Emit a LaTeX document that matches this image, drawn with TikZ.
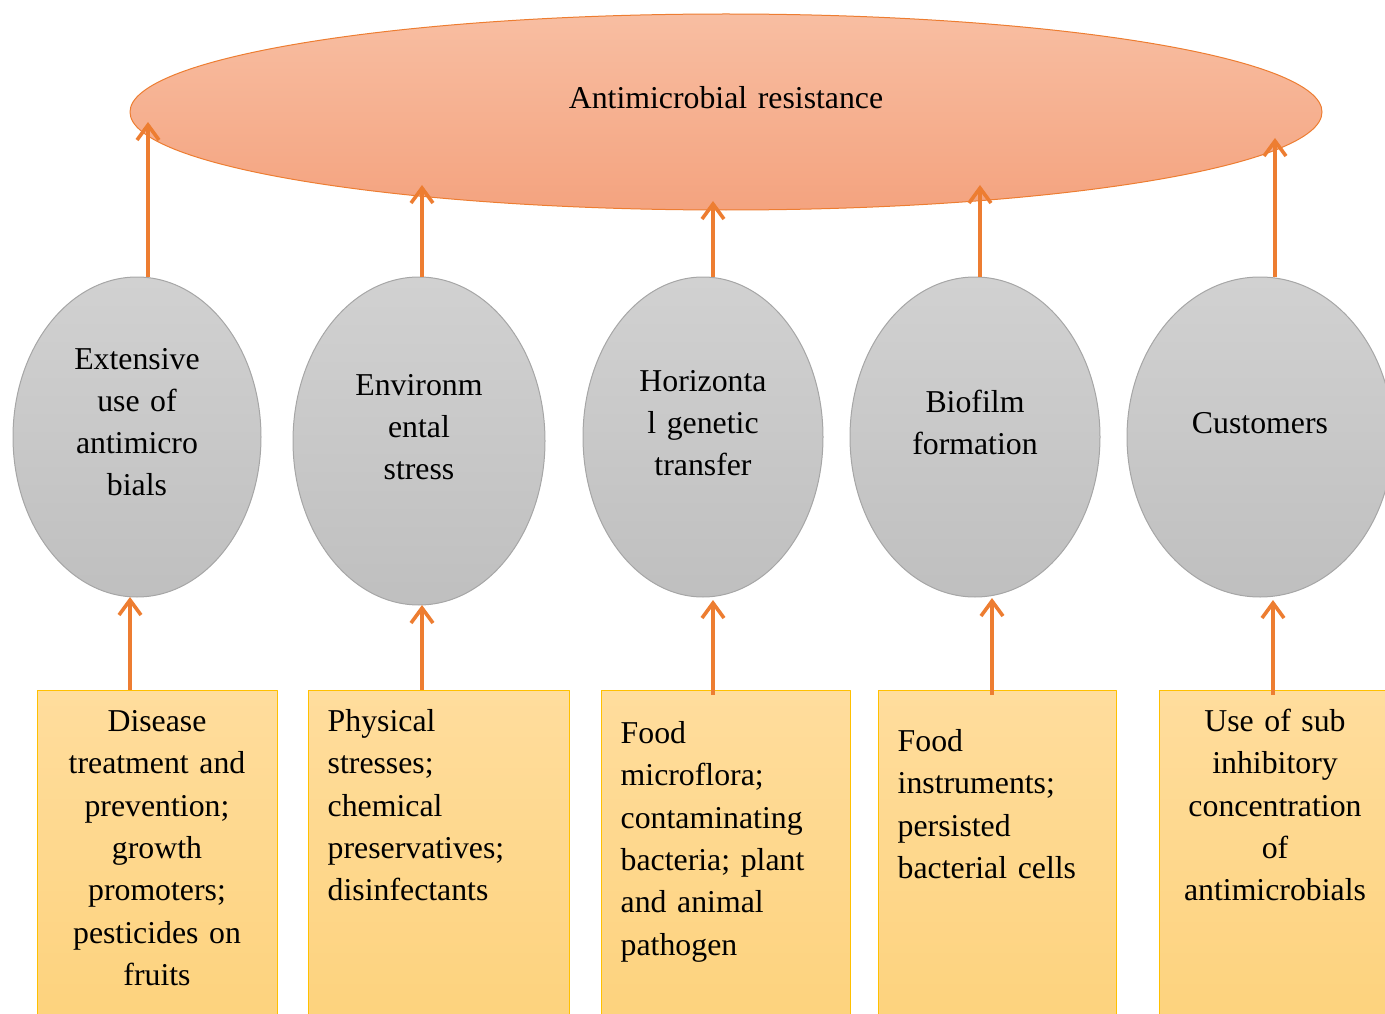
\documentclass[tikz,border=0pt]{standalone}
\usepackage{fontspec}
\setmainfont{Liberation Serif}
\usepackage{tikz}
\usetikzlibrary{shapes.geometric, arrows.meta, positioning}
\definecolor{amrorange}{HTML}{ED7D31}
\definecolor{amrtop}{RGB}{248,190,162}
\definecolor{amrbot}{RGB}{244,163,127}
\definecolor{boxgold}{HTML}{FFC000}
\definecolor{boxtop}{RGB}{255,221,157}
\definecolor{boxbot}{RGB}{253,210,124}

\begin{document}
\begin{tikzpicture}[x=1pt,y=-1pt,>={Straight Barb[length=15pt,width=22pt]},line join=bevel,
    txt/.style={font=\fontsize{31.8}{42.3}\selectfont, inner sep=0pt, text width=#1},
    txt/.default=240pt,
    arr/.style={->, draw=amrorange, line width=3.6pt},
    cause/.style={ellipse, draw=black!35, line width=1pt, top color=black!18, bottom color=black!25,
                  minimum width=#1, minimum height=320pt, inner sep=0pt},
    source/.style={rectangle, draw=boxgold, line width=1pt, top color=boxtop, bottom color=boxbot,
                   minimum width=#1, minimum height=340pt, inner sep=0pt}]
    \useasboundingbox (0,0) rectangle (1385,1014);
    \clip (0,0) rectangle (1385,1014);

    % outcome
    \node[ellipse, draw=amrorange, line width=1pt, top color=amrtop, bottom color=amrbot,
          minimum width=1192pt, minimum height=196pt] (amr) at (726,112) {};
    \node[txt=600pt, align=center, anchor=base] (amrtext) at ([yshift=3pt]amr.center) {Antimicrobial resistance};

    % causes
    \node[cause=248pt] (c1) at (137,437) {};
    \node[cause=252pt, minimum height=328pt] (c2) at (419,441) {};
    \node[cause=240pt] (c3) at (703,437) {};
    \node[cause=250pt] (c4) at (975,437) {};
    \node[cause=266pt] (c5) at (1260,437) {};
    \node[txt=230pt, align=center, anchor=base] (c1text) at ([yshift=68pt]c1.center) {Extensive\\use of\\antimicro\\bials};
    \node[txt=230pt, align=center, anchor=base] (c2text) at ([yshift=46pt]c2.center) {Environm\\ental\\stress};
    \node[txt=230pt, align=center, anchor=base] (c3text) at ([yshift=46pt]c3.center) {Horizonta\\l genetic\\transfer};
    \node[txt=230pt, align=center, anchor=base] (c4text) at ([yshift=25pt]c4.center) {Biofilm\\formation};
    \node[txt=230pt, align=center, anchor=base] (c5text) at ([yshift=4pt]c5.center) {Customers};

    % sources
    \node[source=240pt] (b1) at (157,860) {};
    \node[source=261pt] (b2) at (438.5,860) {};
    \node[source=249pt] (b3) at (725.5,860) {};
    \node[source=238pt] (b4) at (997,860) {};
    \node[source=232pt] (b5) at (1275,860) {};
    \node[txt=236pt, align=center, anchor=base] (b1text) at ([yshift=-42pt]b1.north)
        {Disease\\treatment and\\prevention;\\growth\\promoters;\\pesticides on\\fruits};
    \node[txt, align=left, anchor=base west] (b2text) at ([xshift=20pt,yshift=-42pt]b2.north west)
        {Physical\\stresses;\\chemical\\preservatives;\\disinfectants};
    \node[txt, align=left, anchor=base west] (b3text) at ([xshift=20pt,yshift=-54pt]b3.north west)
        {Food\\microflora;\\contaminating\\bacteria; plant\\and animal\\pathogen};
    \node[txt=215pt, align=left, anchor=base west] (b4text) at ([xshift=20pt,yshift=-62pt]b4.north west)
        {Food\\instruments;\\persisted\\bacterial cells};
    \node[txt=230pt, align=center, anchor=base] (b5text) at ([yshift=-42pt]b5.north)
        {Use of sub\\inhibitory\\concentration\\of\\antimicrobials};

    % arrow tips
    \coordinate (t1) at (148,122);
    \coordinate (t2) at (422,185);
    \coordinate (t3) at (713,201);
    \coordinate (t4) at (980,185);
    \coordinate (t5) at (1275,138);
    \coordinate (u1) at (130,597);
    \coordinate (u2) at (422,605);
    \coordinate (u3) at (713,600);
    \coordinate (u4) at (992,598);
    \coordinate (u5) at (1273,600);

    \foreach \i in {1,...,5}
        \draw[arr] (t\i |- c\i.north) -- (t\i);
    \draw[arr] (u1 |- b1.north) -- (u1);
    \draw[arr] (u2 |- b2.north) -- (u2);
    \foreach \i in {3,4,5}
        \draw[arr, shorten <=-5pt] (u\i |- b\i.north) -- (u\i);
\end{tikzpicture}
\end{document}
